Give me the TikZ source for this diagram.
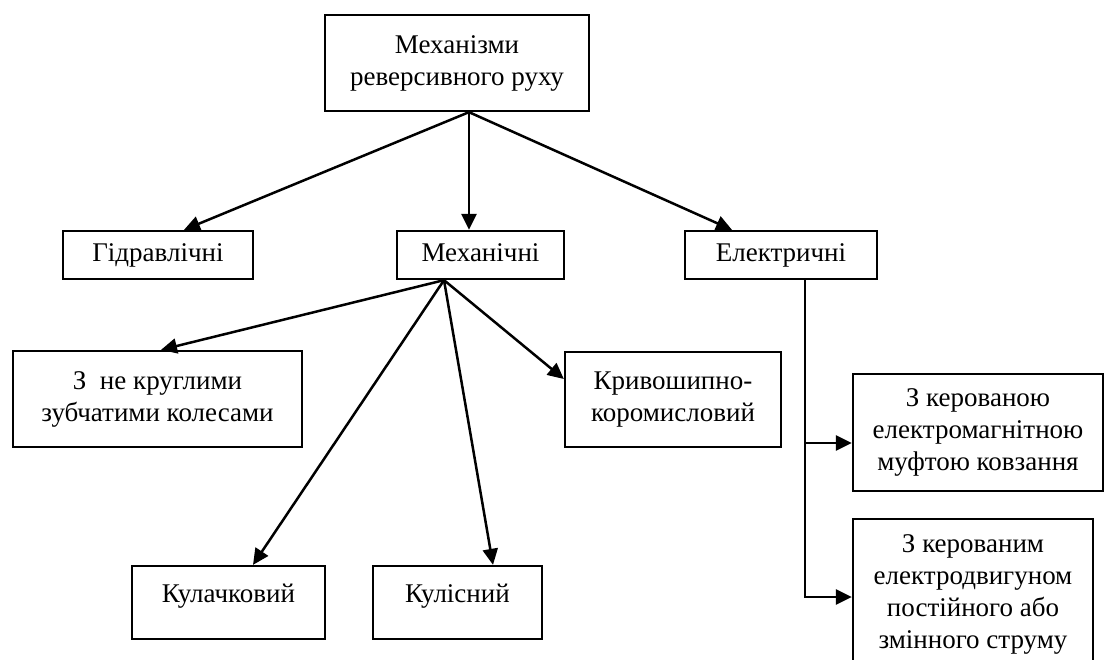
\documentclass[tikz,border=0pt]{standalone}
\usepackage{fontspec}
\setmainfont{Liberation Serif}
\usetikzlibrary{arrows.meta,calc}
\begin{document}
\begin{tikzpicture}[x=1pt,y=-1pt,
  box/.style={draw,line width=2.3pt,rectangle,inner sep=0pt,align=center,
    font=\fontsize{27}{32}\selectfont},
  one/.style={text height=19pt,text depth=7pt},
  arr/.style={line width=2.5pt,-{Triangle[length=16pt,width=15pt]}},
  con/.style={line width=2.5pt}]
\useasboundingbox (0,0) rectangle (1105,659);
\clip (0,0) rectangle (1105,659);
% nodes: centre at box centre, size from reference
\node[box,minimum width=264pt,minimum height=96pt] (top) at (457,63) {Механізми\\реверсивного руху};
\node[box,one,minimum width=190pt,minimum height=48pt] (gid) at (158,255) {Гідравлічні};
\node[box,one,minimum width=167pt,minimum height=48pt] (mech) at (480.5,255) {Механічні};
\node[box,one,minimum width=192pt,minimum height=48pt] (el) at (781,255) {Електричні};
\node[box,minimum width=289pt,minimum height=96pt] (nekr) at (157.5,399) {З\ \ не круглими\\зубчатими колесами};
\node[box,minimum width=216pt,minimum height=95pt] (kryv) at (673,399.5) {Кривошипно-\\коромисловий};
\node[box,one,text depth=20pt,minimum width=193pt,minimum height=73pt] (kul) at (228.5,602.5) {Кулачковий};
\node[box,one,text depth=20pt,minimum width=169pt,minimum height=73pt] (kulis) at (457.5,602.5) {Кулісний};
\node[box,minimum width=250pt,minimum height=117pt] (ek1) at (978,432.5) {З керованою\\електромагнітною\\муфтою ковзання};
\node[box,minimum width=240pt,minimum height=150pt] (ek2) at (973,594) {З керованим\\електродвигуном\\постійного або\\змінного струму};
% connectors from top
\coordinate (tf) at ([xshift=12pt]top.south);
\draw[arr] (tf) -- ([xshift=26pt]gid.north);
\draw[arr] (tf) -- ([xshift=-11.5pt]mech.north);
\draw[arr] (tf) -- ([xshift=-49pt]el.north);
% connectors from mechanical
\coordinate (mf) at ([xshift=-36.5pt]mech.south);
\draw[arr] (mf) -- ([xshift=3.5pt]nekr.north);
\draw[arr] (mf) -- ([yshift=20.5pt]kryv.west);
\draw[arr] (mf) -- ([xshift=24.5pt]kul.north);
\draw[arr] (mf) -- ([xshift=35.5pt]kulis.north);
% connectors from electrical
\coordinate (ef) at ([xshift=24pt]el.south);
\coordinate (e1) at ([yshift=-10.5pt]ek1.west);
\draw[arr] (ef) |- ([yshift=-3pt]ek2.west);
\draw[arr] (ef |- e1) -- (e1);
\end{tikzpicture}
\end{document}
